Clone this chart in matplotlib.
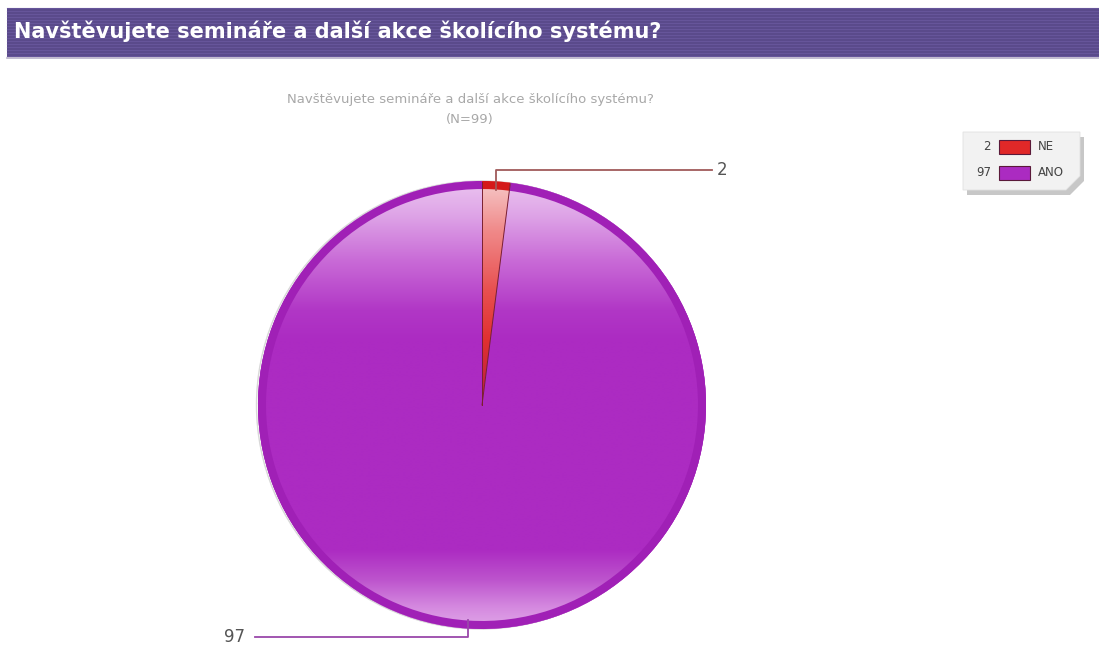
import numpy as np
import matplotlib.pyplot as plt
from matplotlib.patches import Rectangle, Polygon, Arc, Circle
from matplotlib.colors import to_rgb

# survey answers
labels = ['NE', 'ANO']
values = [2, 97]
colors = ['#e02828', '#ab2bc1']
rim_colors = ['#d41a1a', '#a020b6']
line_colors = ['#a05a5a', '#9a48aa']
heading = 'Navštěvujete semináře a další akce školícího systému?'
subtitle = 'Navštěvujete semináře a další akce školícího systému?'
n_label = '(N=%d)' % sum(values)

W, H = 1099, 648
cx, cy, R = 482, H - 405, 224

fig = plt.figure(figsize=(W / 100, H / 100), dpi=100)
ax = fig.add_axes([0, 0, 1, 1])

# striped header bar
ax.add_patch(Rectangle((7, H - 57), W - 7, 49, color='#5a4a8b', lw=0, zorder=1))
for yy in np.arange(8, 57, 3):
    ax.plot([7, W], [H - yy, H - yy], color='#66559a', lw=0.8, zorder=2)
ax.plot([7, W], [H - 57.5, H - 57.5], color='#b8b0c8', lw=1.2, zorder=2)
ax.text(14, H - 31, heading, color='white', fontsize=15, fontweight='bold',
        va='center', ha='left', zorder=3)

ax.text(470, H - 100, subtitle, color='#a8a8a8', fontsize=9.5, ha='center', va='center')
ax.text(470, H - 119, n_label, color='#a8a8a8', fontsize=9.5, ha='center', va='center')

# faint shadow on the left of the pie
ax.add_patch(Circle((cx - 1.5, cy), R, fc='none', ec='#d8d8d8', lw=1.0, zorder=1))

wedges, _ = ax.pie(values, colors=colors, startangle=90, counterclock=False,
                   radius=R, center=(cx, cy), wedgeprops=dict(linewidth=0))


def ramp(stops, n=500):
    ys = np.linspace(H - (cy + R), H - (cy - R), n)
    pos = [s[0] for s in stops]
    rgb = np.array([to_rgb(s[1]) for s in stops])
    out = np.stack([np.interp(ys, pos, rgb[:, k]) for k in range(3)], axis=-1)
    return out[:, None, :]


grads = [
    ramp([(181, '#f6c8c8'), (230, '#f08a8a'), (290, '#e85050'), (340, '#e03030'), (405, '#b82040'),
          (628, '#b82040')]),
    ramp([(181, '#ebc4f0'), (215, '#dea4e7'), (260, '#c96bd7'), (310, '#b137c6'), (340, '#ac2bc2'),
          (550, '#ac2bc2'), (580, '#bd54cd'), (608, '#d58ae0'), (628, '#e0a6e7')]),
]

for w, g, rc in zip(wedges, grads, rim_colors):
    im = ax.imshow(g, extent=[cx - R, cx + R, cy - R, cy + R], aspect='auto',
                   origin='upper', zorder=2, interpolation='bilinear')
    im.set_clip_path(w)
    ax.add_patch(Arc((cx, cy), 2 * R - 8, 2 * R - 8, theta1=w.theta1, theta2=w.theta2,
                     color=rc, lw=5.8, zorder=3))

# slice borders
for ang in (wedges[0].theta1, wedges[0].theta2):
    a = np.deg2rad(ang)
    ax.plot([cx, cx + (R - 1) * np.cos(a)], [cy, cy + (R - 1) * np.sin(a)],
            color='#7a2030', lw=0.7, zorder=4)

# leader lines with values
for w, v, lc in zip(wedges, values, line_colors):
    mid = np.deg2rad((w.theta1 + w.theta2) / 2)
    x0 = cx + 0.96 * R * np.cos(mid)
    y0 = cy + 0.96 * R * np.sin(mid)
    if np.sin(mid) > 0:
        ye, xe = H - 170, 712
        ax.plot([x0, x0, xe], [y0, ye, ye], color=lc, lw=1.3, zorder=5)
        ax.text(xe + 5, ye, str(v), color='#555555', fontsize=12, va='center', ha='left')
    else:
        ye, xe = H - 637, 255
        ax.plot([x0, x0, xe], [y0, ye, ye], color=lc, lw=1.3, zorder=5)
        ax.text(xe - 10, ye, str(v), color='#555555', fontsize=12, va='center', ha='right')

# legend box with folded corner and shadow
lx0, lx1, ly0, ly1 = 963, 1080, 132, 190
box = [(lx0, H - ly0), (lx1, H - ly0), (lx1, H - (ly1 - 14)), (lx1 - 14, H - ly1), (lx0, H - ly1)]
shadow = [(x + 4, y - 5) for x, y in box]
ax.add_patch(Polygon(shadow, closed=True, fc='#9a9a9a', ec='none', alpha=0.55, zorder=5))
ax.add_patch(Polygon(box, closed=True, fc='#f2f2f2', ec='#e0e0e0', lw=0.6, zorder=6))
for i, (lab, v, c) in enumerate(zip(labels, values, colors)):
    ry = 147 + i * 26
    ax.add_patch(Rectangle((999, H - ry - 7), 31, 14, fc=c, ec='#5a1a3a', lw=0.8, zorder=7))
    ax.text(991, H - ry, str(v), fontsize=8.5, color='#444444', ha='right', va='center', zorder=7)
    ax.text(1038, H - ry, lab, fontsize=8.5, color='#444444', ha='left', va='center', zorder=7)

ax.set_xlim(0, W)
ax.set_ylim(0, H)
ax.set_aspect('auto')
ax.axis('off')
fig.savefig('out.png', dpi=100)
